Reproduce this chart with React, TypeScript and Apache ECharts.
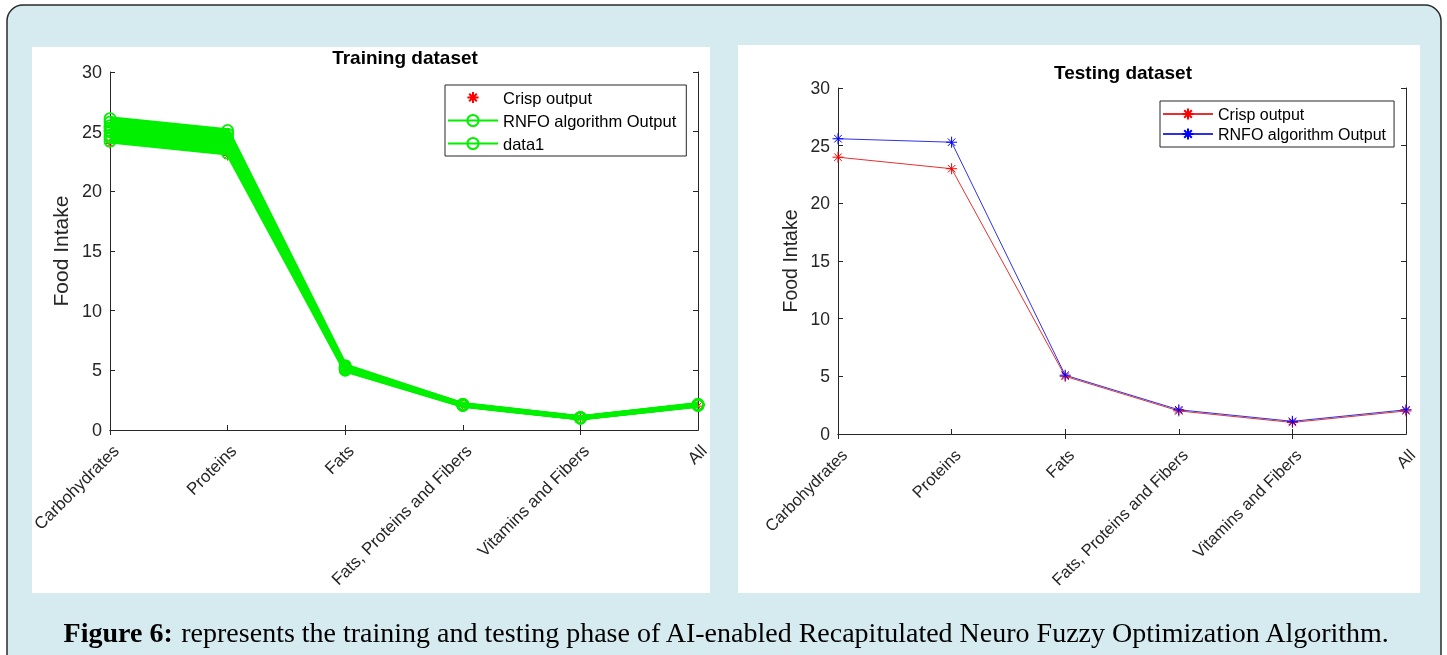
import React, { useEffect, useRef } from "react";
import * as echarts from "echarts";

const categories = [
  "Carbohydrates",
  "Proteins",
  "Fats",
  "Fats, Proteins and Fibers",
  "Vitamins and Fibers",
  "All",
];

// Training dataset
const trainingCrisp = [24.0, 23.0, 5.0, 2.0, 1.0, 2.0];
const trainingRNFO = [25.1, 24.1, 5.2, 2.1, 1.0, 2.1];
const trainingData1Runs = [
  [24.2, 23.2, 5.0, 2.05, 0.98, 2.05],
  [24.5, 23.5, 5.05, 2.07, 1.0, 2.07],
  [24.7, 23.8, 5.1, 2.1, 1.0, 2.1],
  [25.0, 24.0, 5.15, 2.1, 1.02, 2.1],
  [25.3, 24.3, 5.2, 2.12, 1.02, 2.12],
  [25.5, 24.5, 5.25, 2.12, 1.03, 2.12],
  [25.8, 24.8, 5.3, 2.14, 1.04, 2.14],
  [26.1, 25.1, 5.4, 2.15, 1.05, 2.15],
];

// Testing dataset
const testingCrisp = [24.0, 23.0, 5.0, 2.0, 1.0, 2.0];
const testingRNFO = [25.6, 25.3, 5.1, 2.1, 1.1, 2.1];

const yMin = 0;
const yMax = 30;
const yInterval = 5;

const FONT = "'Liberation Sans', Arial, Helvetica, sans-serif";
const AXIS_COLOR = "#262626";
const GREEN = "#00f000";
const ASTERISK =
  "path://M5,0L5,10M0,5L10,5M1.6,1.6L8.4,8.4M1.6,8.4L8.4,1.6";
const RING = "path://M0,5a5,5 0 1,0 10,0a5,5 0 1,0 -10,0Z";

type Fonts = { tick: number; xlab: number; name: number; nameGap: number };

function axes(f: Fonts) {
  const xBase = {
    type: "category" as const,
    data: categories,
    boundaryGap: false,
    axisLine: { show: true, lineStyle: { color: AXIS_COLOR, width: 1 } },
    axisTick: { show: true, inside: true, length: 5, lineStyle: { color: AXIS_COLOR } },
    splitLine: { show: false },
  };
  const yBase = {
    type: "value" as const,
    min: yMin,
    max: yMax,
    interval: yInterval,
    axisLine: { show: true, lineStyle: { color: AXIS_COLOR, width: 1 } },
    axisTick: { show: true, inside: true, length: 5, lineStyle: { color: AXIS_COLOR } },
    splitLine: { show: false },
  };
  return {
    xAxis: [
      {
        ...xBase,
        position: "bottom",
        axisLabel: {
          rotate: 45,
          fontSize: f.xlab,
          color: AXIS_COLOR,
          fontFamily: FONT,
          margin: 12,
          verticalAlign: "top",
        },
      },
      { ...xBase, position: "top", axisLabel: { show: false } },
    ],
    yAxis: [
      {
        ...yBase,
        position: "left",
        axisLabel: { fontSize: f.tick, color: AXIS_COLOR, fontFamily: FONT, margin: 8 },
        name: "Food Intake",
        nameLocation: "middle",
        nameGap: f.nameGap,
        nameTextStyle: { fontSize: f.name, color: AXIS_COLOR, fontFamily: FONT },
      },
      { ...yBase, position: "right", axisLabel: { show: false } },
    ],
  };
}

export default function App() {
  const bgRef = useRef<HTMLDivElement>(null);
  const leftRef = useRef<HTMLDivElement>(null);
  const rightRef = useRef<HTMLDivElement>(null);

  useEffect(() => {
    const bg = echarts.init(bgRef.current!, undefined, { renderer: "svg" });
    const left = echarts.init(leftRef.current!, undefined, { renderer: "svg" });
    const right = echarts.init(rightRef.current!, undefined, { renderer: "svg" });

    bg.setOption({
      animation: false,
      graphic: [
        {
          type: "rect",
          shape: { x: 7, y: 5, width: 1434, height: 700, r: 16 },
          style: { fill: "#d6ebf0", stroke: "#2a2a2a", lineWidth: 1.5 },
        },
        {
          type: "text",
          x: 727,
          y: 632,
          style: {
            text: "{b|Figure 6:} represents the training and testing phase of AI-enabled Recapitulated Neuro Fuzzy Optimization Algorithm.",
            textAlign: "center",
            textVerticalAlign: "middle",
            font: "28px 'Liberation Serif', serif",
            fill: "#000",
            rich: {
              b: {
                fontFamily: "'Liberation Serif', serif",
                fontSize: 28,
                fontWeight: "bold",
                fill: "#000",
              },
            },
          },
        },
      ],
    });

    const greenStyle = {
      symbol: RING,
      symbolSize: 11,
      lineStyle: { color: GREEN, width: 4.5 },
      itemStyle: { color: "rgba(0,0,0,0)", borderColor: GREEN, borderWidth: 1.8 },
      z: 3,
    };

    const greenSeries = trainingData1Runs.map((run) => ({
      name: "data1",
      type: "line",
      data: run,
      ...greenStyle,
    }));

    left.setOption({
      animation: false,
      backgroundColor: "#ffffff",
      grid: { left: 78, top: 25, right: 12, bottom: 163, outerBoundsMode: "none", containLabel: false },
      ...axes({ tick: 18, xlab: 17, name: 21, nameGap: 34 }),
      graphic: [
        {
          type: "text",
          x: 373,
          y: 20,
          style: {
            text: "Training dataset",
            textAlign: "center",
            textVerticalAlign: "bottom",
            font: "bold 19px 'Liberation Sans', Arial, sans-serif",
            fill: "#000",
          },
        },
      ],
      legend: {
        orient: "vertical",
        left: 413,
        top: 38,
        itemWidth: 50,
        itemHeight: 14,
        itemGap: 6,
        padding: [4, 10, 4, 2],
        borderColor: AXIS_COLOR,
        borderWidth: 1,
        borderRadius: 0,
        backgroundColor: "#fff",
        textStyle: { fontSize: 16.5, color: "#000", fontFamily: FONT },
        data: ["Crisp output", "RNFO algorithm Output", "data1"],
      },
      series: [
        {
          name: "Crisp output",
          type: "line",
          data: trainingCrisp,
          symbol: ASTERISK,
          symbolSize: 10,
          lineStyle: { color: "#ff0000", width: 1, opacity: 0 },
          itemStyle: { color: "#ff0000", borderColor: "#ff0000", borderWidth: 1 },
          z: 2,
        },
        {
          name: "RNFO algorithm Output",
          type: "line",
          data: trainingRNFO,
          ...greenStyle,
        },
        ...greenSeries,
      ],
    });

    right.setOption({
      animation: false,
      backgroundColor: "#ffffff",
      grid: { left: 100, top: 43, right: 14, bottom: 159, outerBoundsMode: "none", containLabel: false },
      ...axes({ tick: 17.5, xlab: 16.5, name: 19.5, nameGap: 34 }),
      graphic: [
        {
          type: "text",
          x: 385,
          y: 27,
          style: {
            text: "Testing dataset",
            textAlign: "center",
            textVerticalAlign: "middle",
            font: "bold 19px 'Liberation Sans', Arial, sans-serif",
            fill: "#000",
          },
        },
      ],
      legend: {
        orient: "vertical",
        left: 422,
        top: 56,
        itemWidth: 50,
        itemHeight: 14,
        itemGap: 4,
        padding: [5, 8, 5, 2],
        borderColor: AXIS_COLOR,
        borderWidth: 1,
        borderRadius: 0,
        backgroundColor: "#fff",
        textStyle: { fontSize: 16, color: "#000", fontFamily: FONT },
        data: ["Crisp output", "RNFO algorithm Output"],
      },
      series: [
        {
          name: "Crisp output",
          type: "line",
          data: testingCrisp,
          symbol: ASTERISK,
          symbolSize: 11,
          lineStyle: { color: "#e83030", width: 1 },
          itemStyle: { color: "#ff0000", borderColor: "#ff0000", borderWidth: 1 },
        },
        {
          name: "RNFO algorithm Output",
          type: "line",
          data: testingRNFO,
          symbol: ASTERISK,
          symbolSize: 11,
          lineStyle: { color: "#3030e8", width: 1 },
          itemStyle: { color: "#0000ff", borderColor: "#0000ff", borderWidth: 1 },
        },
      ],
    });

    return () => {
      bg.dispose();
      left.dispose();
      right.dispose();
    };
  }, []);

  return (
    <div
      style={{
        position: "fixed",
        left: 0,
        top: 0,
        width: 1447,
        height: 655,
        overflow: "hidden",
      }}
    >
      <div
        ref={bgRef}
        style={{ position: "absolute", left: 0, top: 0, width: 1447, height: 655 }}
      />
      <div
        ref={leftRef}
        style={{ position: "absolute", left: 32, top: 47, width: 678, height: 546 }}
      />
      <div
        ref={rightRef}
        style={{ position: "absolute", left: 738, top: 45, width: 682, height: 548 }}
      />
    </div>
  );
}
